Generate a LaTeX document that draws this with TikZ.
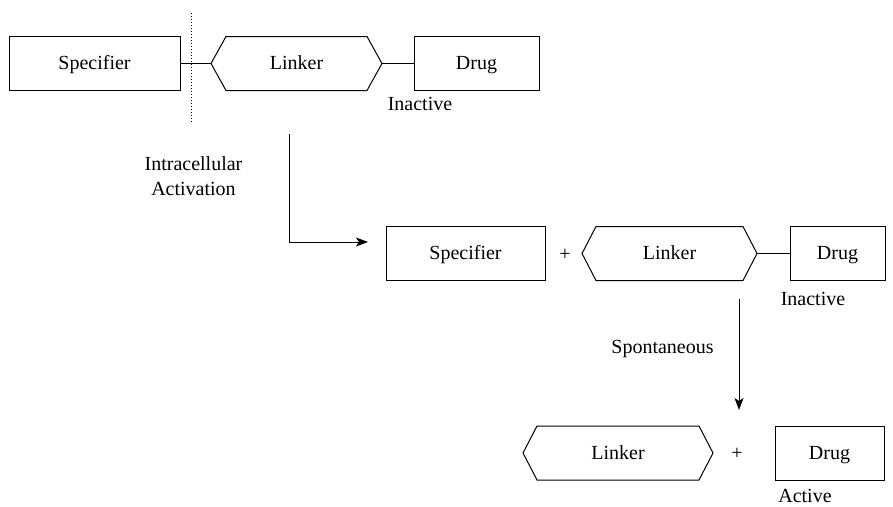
\documentclass[tikz,border=0pt]{standalone}
\usepackage{fontspec}
\setmainfont{Liberation Serif}
\usetikzlibrary{arrows.meta}
\newcommand\hexpath[2]{\draw ([xshift=#2]#1.north west) -- ([xshift=-#2]#1.north east) -- (#1.east) -- ([xshift=-#2]#1.south east) -- ([xshift=#2]#1.south west) -- (#1.west) -- cycle;}
\begin{document}
\begin{tikzpicture}[x=1pt,y=-1pt, font=\fontsize{20}{25}\selectfont, line width=1pt,
  box/.style={draw, rectangle, minimum height=54pt, inner sep=0pt, outer sep=0pt, text height=13pt, text depth=1pt},
  hexbox/.style={rectangle, minimum height=54pt, inner sep=0pt, outer sep=0pt, text height=13pt, text depth=1pt},
  lbl/.style={anchor=base, inner sep=0pt},
  arr/.style={-{Stealth[length=12pt,width=9pt,inset=3pt]}}]
\useasboundingbox (0,0) rectangle (893,506);
% row 1
\node[box, minimum width=171pt] (S1) at (94.5,63.5) {Specifier};
\node[hexbox, minimum width=171pt] (L1) at (296.5,63.5) {Linker};
\hexpath{L1}{15pt}
\node[box, minimum width=125pt] (D1) at (476.5,63.5) {Drug};
\draw (S1.east) -- (L1.west);
\draw (L1.east) -- (D1.west);
\coordinate (dt) at (191,13);
\coordinate (db) at (191,122);
\draw[dotted, line width=1pt] (dt) -- (db);
\node[lbl] (in1) at (420,110) {Inactive};
% activation arrow
\node[align=center, inner sep=0pt] (act) at (193.5,176) {Intracellular\\Activation};
\coordinate (a1s) at (289,134);
\coordinate (a1e) at (368,242);
\draw[arr] (a1s) |- (a1e);
% row 2
\node[box, minimum width=159pt] (S2) at (465.5,253.5) {Specifier};
\node[lbl] (p2) at (565,260) {+};
\node[hexbox, minimum width=175pt] (L2) at (669.5,253.5) {Linker};
\hexpath{L2}{14pt}
\node[box, minimum width=95pt] (D2) at (837.5,253.5) {Drug};
\draw (L2.east) -- (D2.west);
\node[lbl] (in2) at (813,305) {Inactive};
% spontaneous arrow
\node[lbl] (sp) at (662.5,353) {Spontaneous};
\coordinate (a2s) at (739,299);
\coordinate (a2e) at (739,410);
\draw[arr] (a2s) -- (a2e);
% row 3
\node[hexbox, minimum width=190pt] (L3) at (618,453) {Linker};
\hexpath{L3}{14pt}
\node[lbl] (p3) at (737,459) {+};
\node[box, minimum width=109pt] (D3) at (829.5,453) {Drug};
\node[lbl] (ac) at (805,502) {Active};
\end{tikzpicture}
\end{document}
